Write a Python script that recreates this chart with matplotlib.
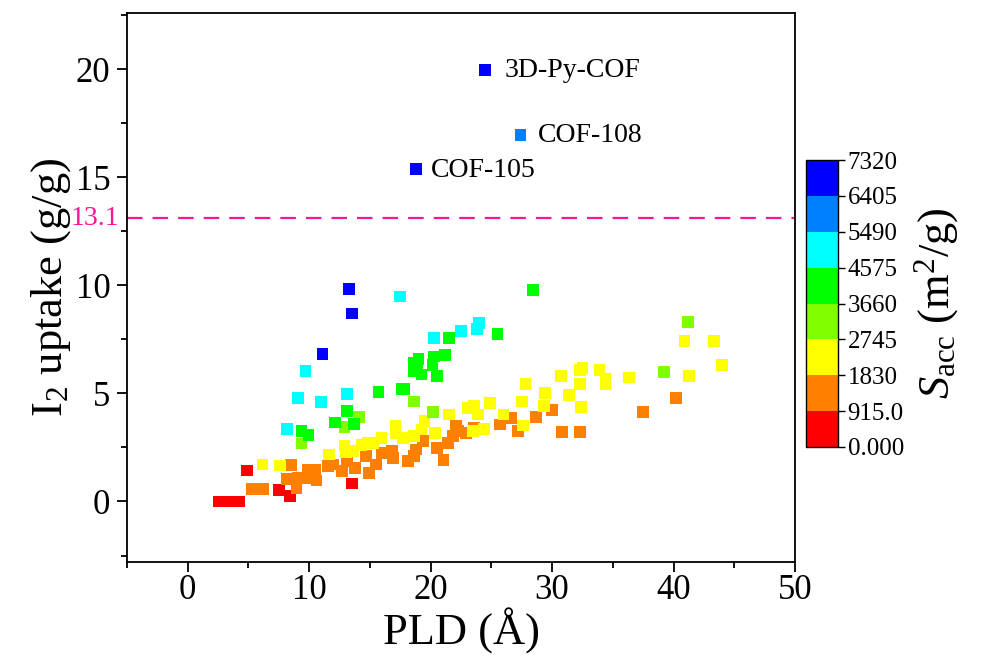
import matplotlib.pyplot as plt
import numpy as np
from matplotlib.colors import ListedColormap, BoundaryNorm

plt.rcParams['font.family'] = ['Liberation Serif', 'DejaVu Serif']
plt.rcParams['mathtext.fontset'] = 'custom'
plt.rcParams['mathtext.rm'] = 'Liberation Serif'
plt.rcParams['mathtext.it'] = 'Liberation Serif:italic'

# PLD (A), I2 uptake (g/g), accessible surface area (m2/g)
red_pld = [2.6, 3.0, 3.4, 3.8, 4.2, 4.9, 7.5, 8.4, 13.5]
red_up = [0.0, 0.0, 0.0, 0.0, 0.0, 1.43, 0.52, 0.25, 0.83]

orange_pld = [5.3, 6.2, 8.2, 8.5, 8.95, 9.1, 9.8, 9.9, 10.5, 10.6, 11.56, 12.0, 12.7,
              13.1, 13.75, 14.7, 14.9, 15.5, 15.95, 16.8, 16.9, 18.15, 18.6, 18.8,
              19.4, 20.5, 21.05, 21.45, 21.85, 22.1, 22.3, 22.9, 23.6, 25.7, 26.65,
              27.2, 28.7, 30.0, 30.8, 32.3, 37.5, 40.2]
orange_up = [0.57, 0.57, 1.05, 1.68, 0.63, 1.09, 1.09, 1.48, 1.48, 0.97, 1.63, 1.71, 1.40,
             1.86, 1.55, 2.09, 1.32, 1.71, 2.25, 2.32, 2.01, 1.86, 2.09, 2.4,
             2.78, 2.48, 1.91, 2.71, 3.02, 3.48, 3.25, 3.17, 3.4, 3.56, 3.87,
             3.25, 3.9, 4.25, 3.2, 3.2, 4.14, 4.77]

yellow_pld = [6.15, 7.58, 11.6, 12.9, 13.0, 13.6, 14.3, 14.85, 15.3, 15.95, 17.1, 17.1,
              17.7, 18.6, 19.25, 19.5, 20.35, 21.5, 23.1, 23.6, 23.9, 24.9, 23.5, 24.4,
              26.0, 27.5, 27.6, 27.8, 29.4, 29.3, 30.7, 31.4, 32.3, 32.4, 32.5, 32.3,
              33.9, 34.4, 34.4, 36.35, 40.9, 43.3, 43.96, 41.3]
yellow_up = [1.71, 1.66, 2.17, 2.59, 2.3, 2.32, 2.63, 2.71, 2.71, 2.94, 3.48, 3.17,
             2.94, 3.02, 3.33, 3.71, 3.17, 4.02, 4.33, 4.4, 4.02, 4.56, 3.25, 3.36,
             4.02, 4.63, 3.51, 5.44, 5.01, 4.4, 5.8, 4.94, 5.45, 4.36, 6.17, 6.1,
             6.07, 5.67, 5.45, 5.74, 7.42, 7.42, 6.33, 5.79]

ygreen_pld = [9.36, 12.9, 14.1, 18.6, 20.2, 39.2, 41.2]
ygreen_up = [2.68, 3.43, 3.9, 4.63, 4.14, 5.98, 8.31]

green_pld = [9.36, 9.94, 12.1, 13.1, 13.7, 15.7, 17.6, 17.8, 18.6, 18.6, 19.0, 19.25,
             18.9, 20.15, 20.3, 20.5, 21.2, 21.5, 25.5, 28.4]
green_up = [3.26, 3.08, 3.65, 4.17, 3.57, 5.07, 5.2, 5.2, 6.4, 6.05, 6.59, 5.87,
            6.3, 6.33, 6.71, 5.79, 6.79, 7.56, 7.76, 9.78]

cyan_pld = [8.2, 9.06, 9.7, 11.0, 13.1, 17.5, 20.3, 22.5, 23.8, 24.0]
cyan_up = [3.36, 4.8, 6.05, 4.59, 4.96, 9.48, 7.56, 7.9, 7.97, 8.25]

azure_pld = [27.4]
azure_up = [16.95]

blue_pld = [11.1, 13.3, 13.5, 18.8, 24.46]
blue_up = [6.84, 9.84, 8.7, 15.38, 19.95]

group_sacc = [450, 1370, 2290, 3200, 4120, 5030, 5950, 6860]

pld = []
uptake = []
sacc = []
for xs, ys, s in zip([red_pld, orange_pld, yellow_pld, ygreen_pld, green_pld, cyan_pld, azure_pld, blue_pld],
                     [red_up, orange_up, yellow_up, ygreen_up, green_up, cyan_up, azure_up, blue_up],
                     group_sacc):
    pld += xs
    uptake += ys
    sacc += [s] * len(xs)

labels = ['3D-Py-COF', 'COF-108', 'COF-105']
label_x = [26.1, 28.8, 20.0]
label_y = [19.95, 16.95, 15.3]

levels = np.arange(0, 7321, 915)
level_labels = ['0.000', '915.0', '1830', '2745', '3660', '4575', '5490', '6405', '7320']
colors = ['#FF0000', '#FF8000', '#FFFF00', '#80FF00', '#00FF00', '#00FFFF', '#0080FF', '#0000FF']
cmap = ListedColormap(colors)
norm = BoundaryNorm(levels, cmap.N)

fig = plt.figure(figsize=(9.87, 6.59), dpi=100)
ax = fig.add_axes([0.1287, 0.1472, 0.6768, 0.8331])

sc = ax.scatter(pld, uptake, c=sacc, cmap=cmap, norm=norm, marker='s', s=72, linewidths=0)

# threshold line
ax.axhline(13.1, color='#FF1493', linestyle=(0, (7, 4.5)), linewidth=1.6)
ax.text(-0.012, 13.1, '13.1', color='#FF1493', fontsize=20,
        transform=ax.get_yaxis_transform(), ha='right', va='center')

for t, x, y in zip(labels, label_x, label_y):
    ax.text(x, y, t, fontsize=20, ha='left', va='center')

ax.set_xlim(-5, 50)
ax.set_ylim(-2.8, 22.6)
ax.set_xticks(np.arange(0, 51, 10))
ax.set_xticks(np.arange(-5, 51, 5), minor=True)
ax.set_yticks(np.arange(0, 21, 5))
ax.set_yticks(np.arange(-2.5, 22.6, 2.5), minor=True)
ax.tick_params(axis='both', which='major', direction='out', length=7, width=1.3, labelsize=25, pad=5)
ax.tick_params(axis='x', which='major', pad=2)
ax.tick_params(axis='both', which='minor', direction='out', length=4, width=1.3)
for sp in ax.spines.values():
    sp.set_linewidth(1.3)

ax.set_xlabel('PLD (Å)', fontsize=32, labelpad=0)
ax.set_ylabel('I$_2$ uptake (g/g)', fontsize=32, labelpad=2)

cax = fig.add_axes([0.8166, 0.3217, 0.0324, 0.4355])
cb = fig.colorbar(sc, cax=cax, ticks=levels)
cb.ax.set_yticklabels(level_labels)
cb.ax.tick_params(labelsize=18, length=5, width=1, pad=2)
cb.outline.set_linewidth(1)
cb.set_label(r'$S_{\rm acc}$ (m$^2$/g)', fontsize=32, labelpad=6)

fig.savefig('out.png', dpi=100)
